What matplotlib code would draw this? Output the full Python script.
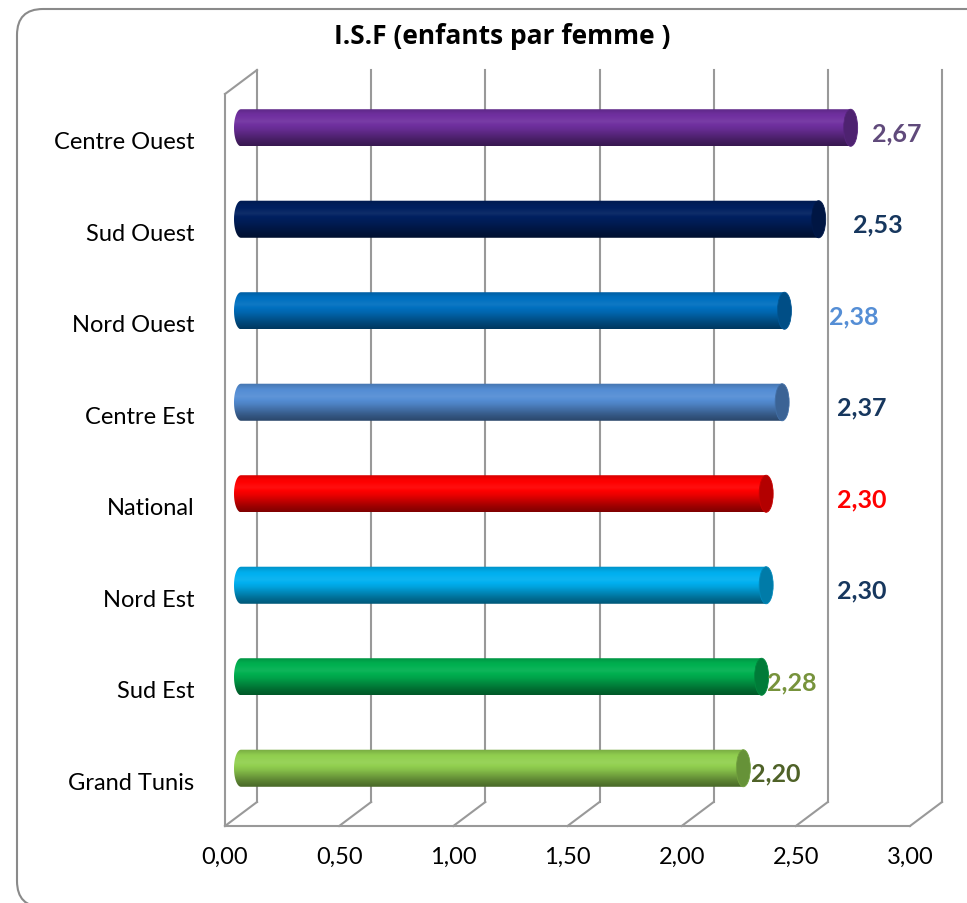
import numpy as np
import matplotlib
matplotlib.use("Agg")
import matplotlib.pyplot as plt
from matplotlib.patches import Polygon, Ellipse, FancyBboxPatch
from matplotlib.transforms import IdentityTransform
from matplotlib.colors import to_rgb

plt.rcParams["font.family"] = ["Lato", "DejaVu Sans"]

# ---- data (top to bottom as shown) ----
regions = ["Centre Ouest", "Sud Ouest", "Nord Ouest", "Centre Est",
           "National", "Nord Est", "Sud Est", "Grand Tunis"]
isf = [2.67, 2.53, 2.38, 2.37, 2.30, 2.30, 2.28, 2.20]
value_labels = ["2,67", "2,53", "2,38", "2,37", "2,30", "2,30", "2,28", "2,20"]
x_ticks = [0.0, 0.5, 1.0, 1.5, 2.0, 2.5, 3.0]
x_ticklabels = ["0,00", "0,50", "1,00", "1,50", "2,00", "2,50", "3,00"]

# ---- styles ----
bar_colors = ["#7030A0", "#002060", "#0070C0", "#558ED5",
              "#FF0000", "#00B0F0", "#00B050", "#92D050"]
label_colors = ["#604A7B", "#17375E", "#558ED5", "#17375E",
                "#FF0000", "#17375E", "#77933C", "#4F6228"]
# where Excel put each value label (front-plane x, data units)
label_x = [2.94, 2.86, 2.755, 2.79, 2.79, 2.79, 2.48, 2.41]
grid_col = "#999999"

W, H = 967, 904
fig = plt.figure(figsize=(W / 100, H / 100), dpi=100)
ax_left, ax_right, ax_top, ax_bot = 225, 910, 95, 827
ax = fig.add_axes([ax_left / W, (H - ax_bot) / H,
                   (ax_right - ax_left) / W, (ax_bot - ax_top) / H])
ax.set_xlim(0, 3)
ax.set_ylim(-0.5, 7.5)
for s in ax.spines.values():
    s.set_visible(False)

# 3D depth offset, pixels -> data units
px_x = (ax_right - ax_left) / 3.0
px_y = (ax_bot - ax_top) / 8.0
DX, DY = 32 / px_x, 24 / px_y

n = len(regions)
ypos = np.arange(n)[::-1]  # first region at top

# ---- walls / floor ----
lw = 1.5
for xt in x_ticks:
    # back-wall gridlines
    ax.plot([xt + DX, xt + DX], [-0.5 + DY, 7.5 + DY], color=grid_col, lw=lw,
            clip_on=False, zorder=1)
    # floor diagonals
    ax.plot([xt, xt + DX], [-0.5, -0.5 + DY], color=grid_col, lw=lw,
            clip_on=False, zorder=1)
ax.plot([0, 3], [-0.5, -0.5], color=grid_col, lw=lw, clip_on=False, zorder=1)
ax.plot([0, 0], [-0.5, 7.5], color=grid_col, lw=lw, clip_on=False, zorder=1)
ax.plot([0, DX], [7.5, 7.5 + DY], color=grid_col, lw=lw, clip_on=False, zorder=1)


def shade(rgb, f):
    rgb = np.array(rgb)
    if f >= 0:
        return rgb + (1 - rgb) * f
    return rgb * (1 + f)


# vertical shading profile of a cylinder (bottom -> top)
prof_t = [0.0, 0.15, 0.45, 0.65, 0.85, 1.0]
prof_f = [-0.50, -0.38, -0.08, 0.06, -0.02, -0.18]
N = 60
tt = np.linspace(0, 1, N)
ff = np.interp(tt, prof_t, prof_f)

bh = 0.405
a = 7 / px_x  # horizontal half-axis of end caps
for y, v, c in zip(ypos, isf, bar_colors):
    base = to_rgb(c)
    yc = y + DY / 2
    x0 = DX / 2
    x1 = DX / 2 + v
    grad = np.array([shade(base, f) for f in ff]).reshape(N, 1, 3)
    th = np.linspace(0, np.pi, 40)
    pts = [(x0, yc - bh / 2), (x1, yc - bh / 2), (x1, yc + bh / 2), (x0, yc + bh / 2)]
    pts += [(x0 - a * np.sin(t), yc + bh / 2 * np.cos(t)) for t in th]
    body = Polygon(pts, closed=True, facecolor="none", edgecolor="none",
                   transform=ax.transData)
    ax.add_patch(body)
    im = ax.imshow(grad, extent=[x0 - a, x1, yc - bh / 2, yc + bh / 2],
                   origin="lower", aspect="auto", zorder=3, interpolation="bilinear")
    im.set_clip_path(body)
    im.set_clip_on(True)
    cap = Ellipse((x1, yc), 2 * a, bh, facecolor=shade(base, -0.3),
                  edgecolor=shade(base, -0.22), lw=0.6, zorder=4, clip_on=False)
    ax.add_patch(cap)

ax.set_xlim(0, 3)
ax.set_ylim(-0.5, 7.5)

# value labels
for y, lab, lx, lc in zip(ypos, value_labels, label_x, label_colors):
    ax.text(lx, y + 0.08, lab, ha="center", va="center", fontsize=18,
            fontweight="bold", color=lc, clip_on=False, zorder=5)

ax.set_xticks(x_ticks)
ax.set_xticklabels(x_ticklabels, fontsize=17)
ax.set_yticks(ypos)
ax.set_yticklabels(regions, fontsize=17)
ax.tick_params(axis="x", length=0, pad=14)
ax.tick_params(axis="y", length=0, pad=22)

fig.text(502 / W, 1 - 37 / H, "I.S.F (enfants par femme )", ha="center",
         va="center", fontsize=19, fontweight="bold",
         family=["Open Sans", "DejaVu Sans"])

# outer rounded frame (cut by the image edge on the right/bottom)
frame = FancyBboxPatch((17, -4), 1000, 898, boxstyle="round,pad=0,rounding_size=26",
                       transform=IdentityTransform(), facecolor="none",
                       edgecolor="#8A8A8A", lw=1.5)
fig.add_artist(frame)

fig.savefig("out.png", dpi=100)
